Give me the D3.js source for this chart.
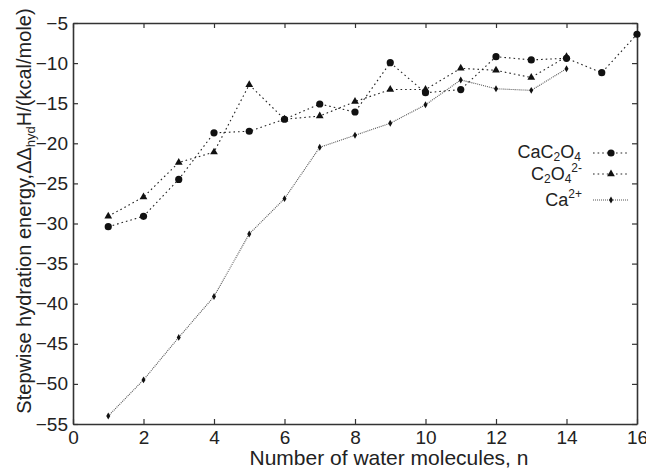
<!DOCTYPE html>
<html>
<head>
<meta charset="utf-8">
<script src="https://cdn.jsdelivr.net/npm/d3@7"></script>
<style>
  body { margin: 0; background: #fff; }
  svg { font-family: "Liberation Sans", Arial, Helvetica, sans-serif; }
  .axis path, .axis line { stroke: #333; }
  .axis text { fill: #222; }
</style>
</head>
<body>
<div id="chart"></div>
<script>
var svgWidth = 646;
var svgHeight = 469;

var margin = { top: 23, right: 9, bottom: 45, left: 73 };
var width = svgWidth - margin.left - margin.right;
var height = svgHeight - margin.top - margin.bottom;

// data
var nCaC2O4 = [1, 2, 3, 4, 5, 6, 7, 8, 9, 10, 11, 12, 13, 14, 15, 16];
var valCaC2O4 = [-30.4, -29.1, -24.5, -18.7, -18.5, -17.0, -15.1, -16.1, -9.95, -13.7, -13.3, -9.2, -9.6, -9.4, -11.2, -6.4];

var nC2O4 = [1, 2, 3, 4, 5, 6, 7, 8, 9, 10, 11, 12, 13, 14];
var valC2O4 = [-29.1, -26.7, -22.4, -21.1, -12.7, -17.0, -16.6, -14.8, -13.3, -13.3, -10.65, -10.9, -11.8, -9.2];

var nCa = [1, 2, 3, 4, 5, 6, 7, 8, 9, 10, 11, 12, 13, 14];
var valCa = [-54.0, -49.5, -44.2, -39.1, -31.3, -26.9, -20.5, -19.0, -17.5, -15.2, -12.1, -13.2, -13.4, -10.7];

var xTicks = [0, 2, 4, 6, 8, 10, 12, 14, 16];
var yTicks = [-55, -50, -45, -40, -35, -30, -25, -20, -15, -10, -5];

var series = [
  { key: "CaC2O4", n: nCaC2O4, v: valCaC2O4, marker: "circle", dash: "1.6,3", color: "#222" },
  { key: "C2O4", n: nC2O4, v: valC2O4, marker: "triangle", dash: "1.6,3", color: "#222" },
  { key: "Ca", n: nCa, v: valCa, marker: "diamond", dash: "1,1", color: "#555" }
];

var svg = d3.select("#chart")
  .append("svg")
  .attr("width", svgWidth)
  .attr("height", svgHeight);

var g = svg.append("g")
  .attr("transform", `translate(${margin.left}, ${margin.top})`);

var x = d3.scaleLinear().domain([0, 16]).range([0, width]);
var y = d3.scaleLinear().domain([-55, -5]).range([height, 0]);

// axes, ticks pointing inward on all four sides
g.append("g")
  .attr("class", "axis")
  .attr("transform", `translate(0, ${height})`)
  .call(d3.axisBottom(x).tickValues(xTicks).tickSizeInner(-5).tickSizeOuter(0).tickPadding(6))
  .call(a => a.selectAll("text").style("font-size", "19px").attr("dy", "0.72em"));

g.append("g")
  .attr("class", "axis")
  .call(d3.axisTop(x).tickValues(xTicks).tickSizeInner(-5).tickSizeOuter(0))
  .call(a => a.selectAll("text").remove());

g.append("g")
  .attr("class", "axis")
  .call(d3.axisLeft(y).tickValues(yTicks).tickSizeInner(-5).tickSizeOuter(0).tickPadding(5))
  .call(a => a.selectAll("text").style("font-size", "19px"));

g.append("g")
  .attr("class", "axis")
  .attr("transform", `translate(${width}, 0)`)
  .call(d3.axisRight(y).tickValues(yTicks).tickSizeInner(-5).tickSizeOuter(0))
  .call(a => a.selectAll("text").remove());

g.selectAll(".axis path").attr("stroke-width", 1.6);
g.selectAll(".axis line").attr("stroke-width", 1.2);

// lines and markers
var line = d3.line()
  .x(d => x(d[0]))
  .y(d => y(d[1]));

function drawMarker(sel, type, color) {
  if (type === "circle") {
    sel.append("circle").attr("r", 3.6).attr("fill", color);
  } else if (type === "triangle") {
    sel.append("path").attr("d", d3.symbol().type(d3.symbolTriangle).size(26)).attr("fill", color);
  } else {
    sel.append("path").attr("d", d3.symbol().type(d3.symbolDiamond).size(14)).attr("fill", color);
  }
}

series.forEach(function(s) {
  var pts = s.n.map((n, i) => [n, s.v[i]]);
  g.append("path")
    .datum(pts)
    .attr("fill", "none")
    .attr("stroke", s.color)
    .attr("stroke-width", 1.1)
    .attr("stroke-dasharray", s.dash)
    .attr("d", line);

  var m = g.selectAll(".m-" + s.key)
    .data(pts)
    .enter()
    .append("g")
    .attr("class", "m-" + s.key)
    .attr("transform", d => `translate(${x(d[0])}, ${y(d[1])})`);
  m.each(function() { drawMarker(d3.select(this), s.marker, "#111"); });
});

// legend
var legend = svg.append("g").style("font-size", "18px").attr("fill", "#222");
var legY = [153, 174, 200];

var t1 = legend.append("text").attr("x", 581).attr("y", legY[0] + 5).attr("text-anchor", "end");
t1.append("tspan").text("CaC");
t1.append("tspan").attr("font-size", "12px").attr("dy", 3).text("2");
t1.append("tspan").attr("dy", -3).text("O");
t1.append("tspan").attr("font-size", "12px").attr("dy", 3).text("4");

var t2 = legend.append("text").attr("x", 582).attr("y", legY[1] + 6).attr("text-anchor", "end");
t2.append("tspan").text("C");
t2.append("tspan").attr("font-size", "12px").attr("dy", 3).text("2");
t2.append("tspan").attr("dy", -3).text("O");
t2.append("tspan").attr("font-size", "12px").attr("dy", 3).text("4");
t2.append("tspan").attr("font-size", "12px").attr("dy", -11).text("2-");

var t3 = legend.append("text").attr("x", 582).attr("y", legY[2] + 6).attr("text-anchor", "end");
t3.append("tspan").text("Ca");
t3.append("tspan").attr("font-size", "12px").attr("dy", -8).text("2+");

series.forEach(function(s, i) {
  legend.append("line")
    .attr("x1", 593).attr("x2", 628)
    .attr("y1", legY[i]).attr("y2", legY[i])
    .attr("stroke", s.color)
    .attr("stroke-width", 1.1)
    .attr("stroke-dasharray", s.dash);
  var m = legend.append("g").attr("transform", `translate(611, ${legY[i]})`);
  drawMarker(m, s.marker, "#111");
});

// axis titles
svg.append("text")
  .attr("x", 389)
  .attr("y", 465)
  .attr("text-anchor", "middle")
  .style("font-size", "21px")
  .attr("fill", "#222")
  .text("Number of water molecules, n");

var yt = svg.append("text")
  .attr("transform", "translate(31, 211) rotate(-90)")
  .attr("text-anchor", "middle")
  .style("font-size", "20px")
  .attr("fill", "#222");
yt.append("tspan").text("Stepwise hydration energy,\u0394\u0394");
yt.append("tspan").attr("font-size", "13px").attr("dy", 4).text("hyd");
yt.append("tspan").attr("dy", -4).text("H/(kcal/mole)");
</script>
</body>
</html>
